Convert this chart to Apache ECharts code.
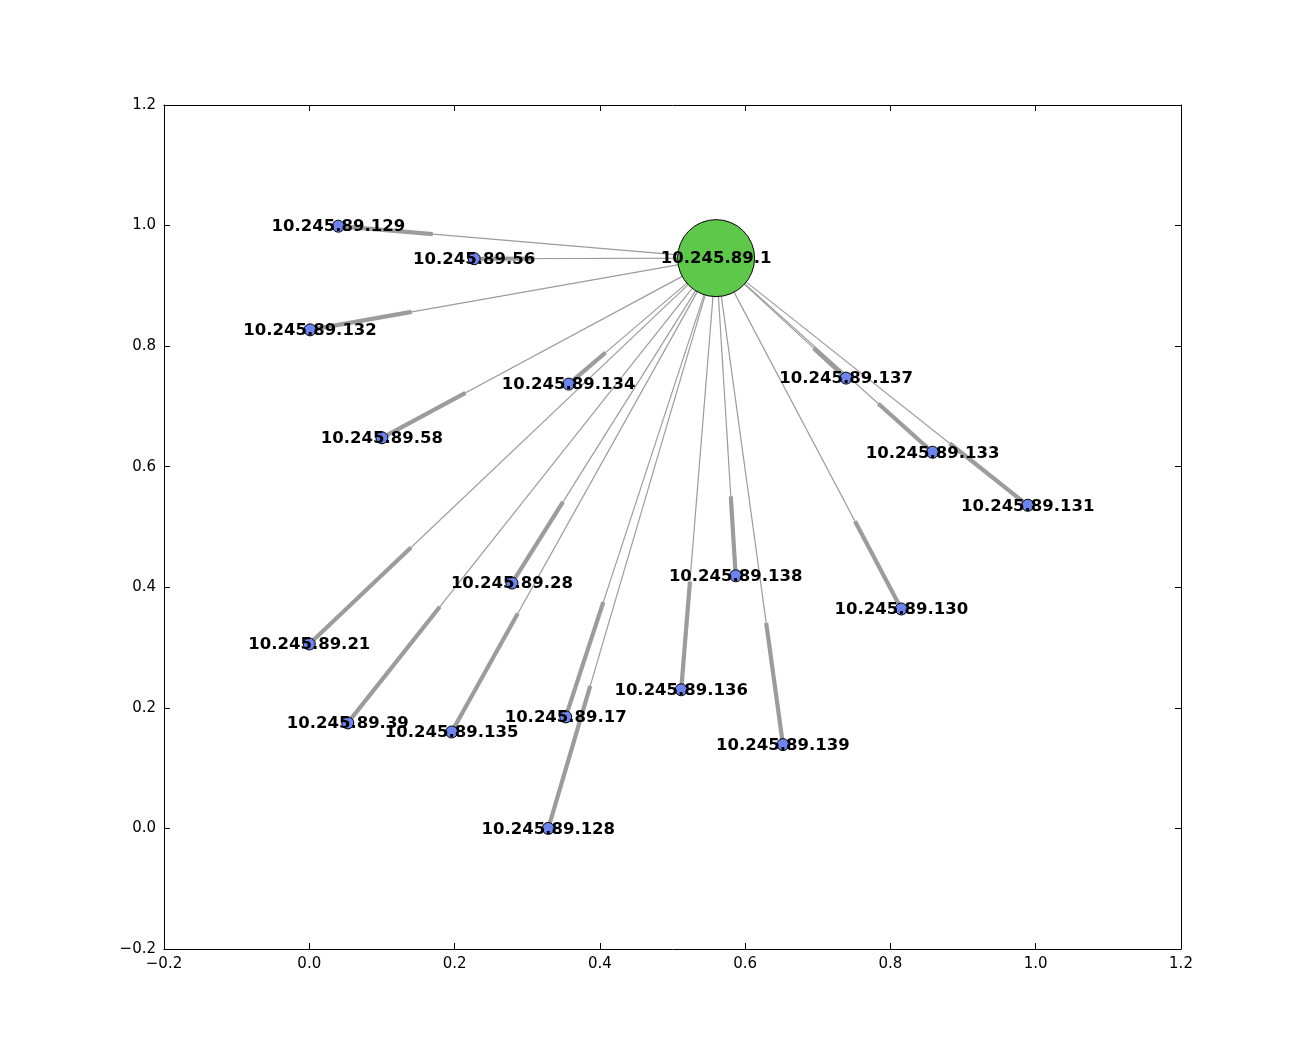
<!DOCTYPE html>
<html>
<head>
<meta charset="utf-8">
<script src="https://cdn.jsdelivr.net/npm/echarts@6/dist/echarts.min.js"></script>
<style>
html, body { margin: 0; padding: 0; background: #fff; }
#chart { width: 1312px; height: 1056px; }
</style>
</head>
<body>
<div id="chart"></div>
<script>
// hub node
var hubName = '10.245.89.1';
var hubPos = [0.560, 0.946];

// leaf nodes
var nodeNames = [
	'10.245.89.129', '10.245.89.56', '10.245.89.132', '10.245.89.134',
	'10.245.89.58', '10.245.89.137', '10.245.89.133', '10.245.89.131',
	'10.245.89.138', '10.245.89.130', '10.245.89.28', '10.245.89.21',
	'10.245.89.39', '10.245.89.135', '10.245.89.17', '10.245.89.136',
	'10.245.89.139', '10.245.89.128'
];
var nodeX = [0.040, 0.227, 0.001, 0.357, 0.100, 0.739, 0.858, 0.989,
	0.587, 0.815, 0.279, 0.000, 0.053, 0.196, 0.353, 0.512, 0.652, 0.329];
var nodeY = [0.999, 0.945, 0.827, 0.737, 0.648, 0.747, 0.624, 0.536,
	0.419, 0.364, 0.407, 0.306, 0.175, 0.160, 0.185, 0.230, 0.139, 0.000];

var axisMin = -0.2, axisMax = 1.2, axisStep = 0.2;

var leafData = nodeNames.map(function (n, i) {
	return { name: n, value: [nodeX[i], nodeY[i]] };
});
var allLabels = [{ name: hubName, value: hubPos }].concat(leafData);

var font = 'DejaVu Sans';
function fmt(v) {
	return v.toFixed(1).replace('-', '\u2212');
}
function axis(pos, show) {
	return {
		type: 'value',
		position: pos,
		min: axisMin, max: axisMax, interval: axisStep,
		axisLine: { show: true, onZero: false, lineStyle: { color: '#000', width: 1 } },
		axisTick: { show: true, inside: true, length: 6, lineStyle: { color: '#000' } },
		axisLabel: { show: show, formatter: fmt, color: '#000', fontFamily: font, fontSize: 15, margin: 8 },
		splitLine: { show: false }
	};
}

var chart = echarts.init(document.getElementById('chart'));
chart.setOption({
	animation: false,
	backgroundColor: '#fff',
	grid: { left: 164, top: 105, right: 131, bottom: 107, show: false },
	xAxis: [axis('bottom', true), axis('top', false)],
	yAxis: [axis('left', true), axis('right', false)],
	series: [
		{
			// edges: thin line, thick last quarter
			type: 'custom',
			z: 1,
			silent: true,
			data: leafData.map(function (d) { return d.value; }),
			renderItem: function (params, api) {
				var s = api.coord(hubPos);
				var t = api.coord([api.value(0), api.value(1)]);
				var m = [s[0] + (t[0] - s[0]) * 0.75, s[1] + (t[1] - s[1]) * 0.75];
				return {
					type: 'group',
					children: [
						{ type: 'line', shape: { x1: s[0], y1: s[1], x2: t[0], y2: t[1] },
							style: { stroke: '#9c9c9c', lineWidth: 1.2 } },
						{ type: 'line', shape: { x1: m[0], y1: m[1], x2: t[0], y2: t[1] },
							style: { stroke: '#9c9c9c', lineWidth: 4.2 } }
					]
				};
			}
		},
		{
			type: 'scatter',
			z: 2,
			symbolSize: 77,
			itemStyle: { color: '#5ec84a', borderColor: '#000', borderWidth: 1, opacity: 1 },
			data: [{ name: hubName, value: hubPos }]
		},
		{
			type: 'scatter',
			z: 3,
			symbolSize: 12,
			itemStyle: { color: '#6b84f0', borderColor: '#000', borderWidth: 1, opacity: 1 },
			data: leafData
		},
		{
			type: 'scatter',
			z: 4,
			symbolSize: 0,
			silent: true,
			itemStyle: { opacity: 1 },
			label: {
				show: true,
				position: 'inside',
				offset: [0, 1],
				formatter: '{b}',
				color: '#000',
				fontFamily: font,
				fontWeight: 'bold',
				fontSize: 16.5
			},
			data: allLabels
		}
	]
});
</script>
</body>
</html>
